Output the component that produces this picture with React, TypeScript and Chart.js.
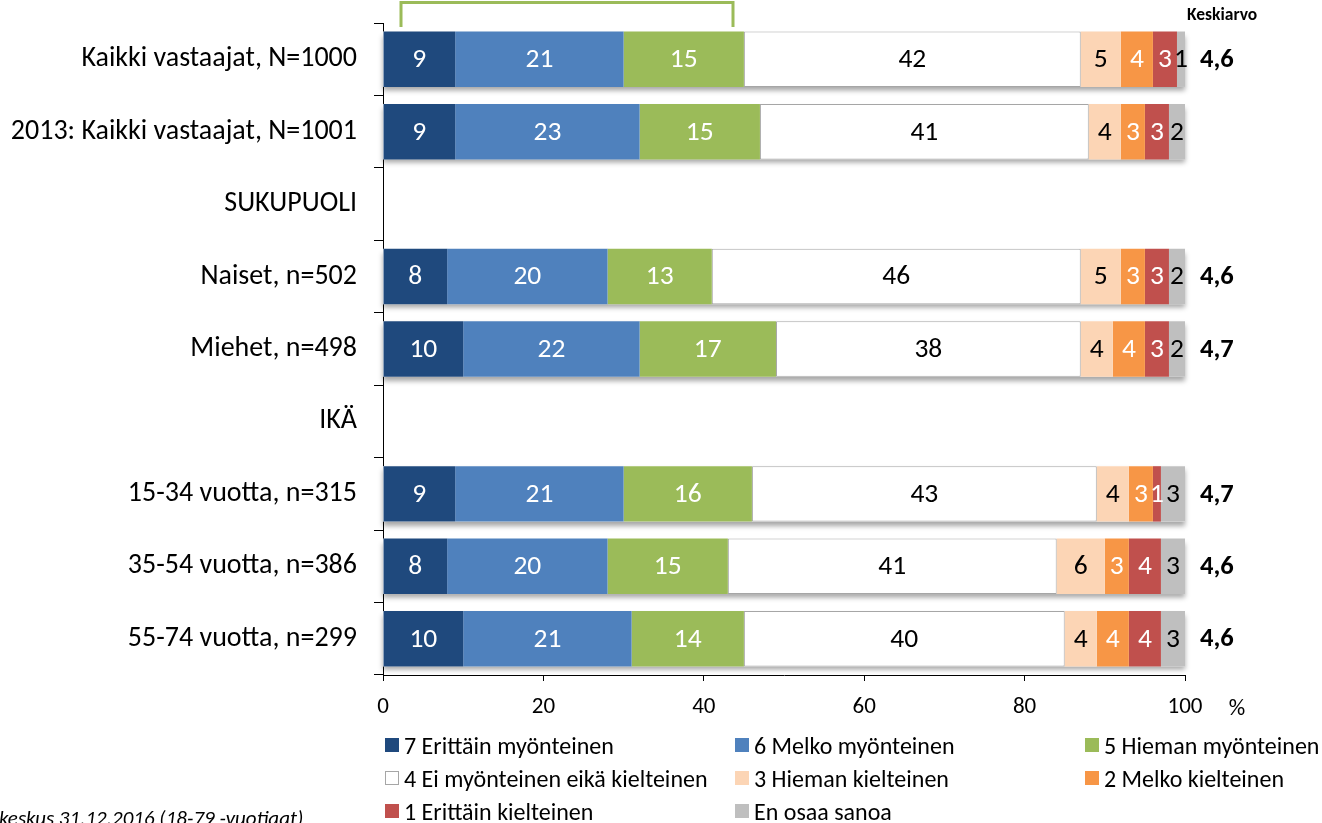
import React, { useEffect, useRef } from "react";
import { Chart, registerables } from "chart.js";

Chart.register(...registerables);

const categories = [
  "Kaikki vastaajat, N=1000",
  "2013: Kaikki vastaajat, N=1001",
  "SUKUPUOLI",
  "Naiset, n=502",
  "Miehet, n=498",
  "IKÄ",
  "15-34 vuotta, n=315",
  "35-54 vuotta, n=386",
  "55-74 vuotta, n=299",
];

const s7 = [9, 9, null, 8, 10, null, 9, 8, 10];
const s6 = [21, 23, null, 20, 22, null, 21, 20, 21];
const s5 = [15, 15, null, 13, 17, null, 16, 15, 14];
const s4 = [42, 41, null, 46, 38, null, 43, 41, 40];
const s3 = [5, 4, null, 5, 4, null, 4, 6, 4];
const s2 = [4, 3, null, 3, 4, null, 3, 3, 4];
const s1 = [3, 3, null, 3, 3, null, 1, 4, 4];
const s0 = [1, 2, null, 2, 2, null, 3, 3, 3];

const keskiarvo = ["4,6", "", "", "4,6", "4,7", "", "4,7", "4,6", "4,6"];

const seriesNames = [
  "7 Erittäin myönteinen",
  "6 Melko myönteinen",
  "5 Hieman myönteinen",
  "4 Ei myönteinen eikä kielteinen",
  "3 Hieman kielteinen",
  "2 Melko kielteinen",
  "1 Erittäin kielteinen",
  "En osaa sanoa",
];
const seriesData = [s7, s6, s5, s4, s3, s2, s1, s0];
const seriesColors = ["#1F497D", "#4F81BD", "#9BBB59", "#FFFFFF", "#FCD5B5", "#F79646", "#C0504D", "#BFBFBF"];
const labelColors = ["#FFFFFF", "#FFFFFF", "#FFFFFF", "#000000", "#000000", "#FFFFFF", "#FFFFFF", "#000000"];

const xTicks = [0, 20, 40, 60, 80, 100];

const FONT = 'Carlito, "Liberation Sans", Arial, sans-serif';

const legendOrder = [0, 1, 2, 3, 4, 5, 6, 7];

export default function App() {
  const canvasRef = useRef<HTMLCanvasElement | null>(null);

  useEffect(() => {
    document.body.style.margin = "0";
    const canvas = canvasRef.current;
    if (!canvas) return;

    const shadowPlugin = {
      id: "rowShadow",
      beforeDatasetsDraw(chart: any) {
        const ctx = chart.ctx;
        const meta = chart.getDatasetMeta(0);
        const xs = chart.scales.x;
        ctx.save();
        meta.data.forEach((el: any, i: number) => {
          if (s7[i] == null) return;
          const { y, height } = el.getProps(["y", "height"], true);
          const l = xs.getPixelForValue(0);
          const r = xs.getPixelForValue(100);
          ctx.shadowColor = "rgba(0,0,0,0.35)";
          ctx.shadowBlur = 5;
          ctx.shadowOffsetY = 4;
          ctx.fillStyle = "#FFFFFF";
          ctx.fillRect(l, y - height / 2, r - l, height);
        });
        ctx.restore();
      },
    };

    const labelPlugin = {
      id: "labels",
      afterDatasetsDraw(chart: any) {
        const ctx = chart.ctx;
        const area = chart.chartArea;
        ctx.save();
        ctx.font = "27.5px " + FONT;
        ctx.textAlign = "center";
        ctx.textBaseline = "middle";
        chart.data.datasets.forEach((ds: any, di: number) => {
          const meta = chart.getDatasetMeta(di);
          meta.data.forEach((el: any, i: number) => {
            const v = ds.data[i];
            if (v == null || v === 0) return;
            const { x, base, y } = el.getProps(["x", "base", "y"], true);
            ctx.fillStyle = labelColors[di];
            ctx.fillText(String(v), (x + base) / 2, y + 1);
          });
        });
        // Keskiarvo values
        const meta0 = chart.getDatasetMeta(0);
        ctx.font = "bold 26.5px " + FONT;
        ctx.textAlign = "left";
        ctx.fillStyle = "#000000";
        meta0.data.forEach((el: any, i: number) => {
          const k = keskiarvo[i];
          if (!k) return;
          const { y } = el.getProps(["y"], true);
          ctx.fillText(k, area.right + 15, y + 1);
        });
        // header
        ctx.font = "bold 17.5px " + FONT;
        ctx.fillText("Keskiarvo", area.right + 2, 16);
        // percent sign
        ctx.font = "23px " + FONT;
        ctx.textAlign = "center";
        ctx.fillText("%", 1237, 709);
        // green bracket
        ctx.strokeStyle = "#9BBB59";
        ctx.lineWidth = 3;
        ctx.beginPath();
        ctx.moveTo(401, 27);
        ctx.lineTo(401, 2.5);
        ctx.lineTo(733, 2.5);
        ctx.lineTo(733, 27);
        ctx.stroke();
        ctx.restore();
      },
    };

    const chart = new Chart(canvas, {
      type: "bar",
      data: {
        labels: categories,
        datasets: seriesData.map((d, i) => ({
          label: seriesNames[i],
          data: d,
          backgroundColor: seriesColors[i],
          borderColor: i === 3 ? "#A6A6A6" : seriesColors[i],
          borderWidth: i === 3 ? 1 : 0,
          borderSkipped: false,
          barPercentage: 1,
          categoryPercentage: 0.765,
        })),
      },
      options: {
        indexAxis: "y",
        animation: false,
        responsive: false,
        maintainAspectRatio: false,
        layout: { padding: { left: 0, right: 137, top: 23, bottom: 0 } },
        plugins: {
          legend: { display: false },
          tooltip: { enabled: false },
        },
        scales: {
          x: {
            stacked: true,
            min: 0,
            max: 100,
            afterBuildTicks: (scale: any) => {
              scale.ticks = xTicks.map((v) => ({ value: v }));
            },
            afterFit: (scale: any) => {
              scale.height = 148;
              scale.paddingLeft = 0;
              scale.paddingRight = 0;
            },
            ticks: {
              color: "#000000",
              font: { size: 23, family: FONT },
              padding: 12,
              maxRotation: 0,
            },
            grid: { drawOnChartArea: false, drawTicks: true, tickLength: 6, color: "#000000" },
            border: { display: true, color: "#000000", width: 1 },
          },
          y: {
            stacked: true,
            afterFit: (scale: any) => {
              scale.width = 383;
              scale.paddingTop = 0;
              scale.paddingBottom = 0;
            },
            ticks: {
              color: "#000000",
              font: { size: 28, family: FONT },
              padding: 17,
              autoSkip: false,
            },
            grid: { offset: true, drawOnChartArea: false, drawTicks: true, tickLength: 9, color: "#000000" },
            border: { display: true, color: "#000000", width: 1 },
          },
        },
      },
      plugins: [shadowPlugin, labelPlugin],
    } as any);

    return () => {
      chart.destroy();
    };
  }, []);

  const colX = [385, 735, 1085];
  const rowY = [745, 778, 811];

  return (
    <div style={{ position: "relative", width: 1322, height: 823, overflow: "hidden", background: "#FFFFFF" }}>
      <canvas ref={canvasRef} width={1322} height={823} style={{ position: "absolute", left: 0, top: 0 }} />
      {legendOrder.map((si, idx) => {
        const col = idx % 3;
        const row = Math.floor(idx / 3);
        return (
          <div
            key={si}
            style={{
              position: "absolute",
              left: colX[col],
              top: rowY[row] - 15,
              height: 30,
              display: "flex",
              alignItems: "center",
              fontFamily: FONT,
              fontSize: 24,
              color: "#000000",
              whiteSpace: "nowrap",
            }}
          >
            <span
              style={{
                display: "inline-block",
                width: si === 3 ? 12 : 14,
                height: si === 3 ? 12 : 14,
                background: seriesColors[si],
                border: si === 3 ? "1px solid #A6A6A6" : "none",
                marginRight: 5,
                flexShrink: 0,
              }}
            />
            <span>{seriesNames[si]}</span>
          </div>
        );
      })}
      <div
        style={{
          position: "absolute",
          left: -1,
          top: 806,
          fontFamily: FONT,
          fontStyle: "italic",
          fontSize: 21,
          color: "#000000",
          whiteSpace: "nowrap",
          lineHeight: "24px",
        }}
      >
        keskus 31.12.2016 (18-79 -vuotiaat)
      </div>
    </div>
  );
}
